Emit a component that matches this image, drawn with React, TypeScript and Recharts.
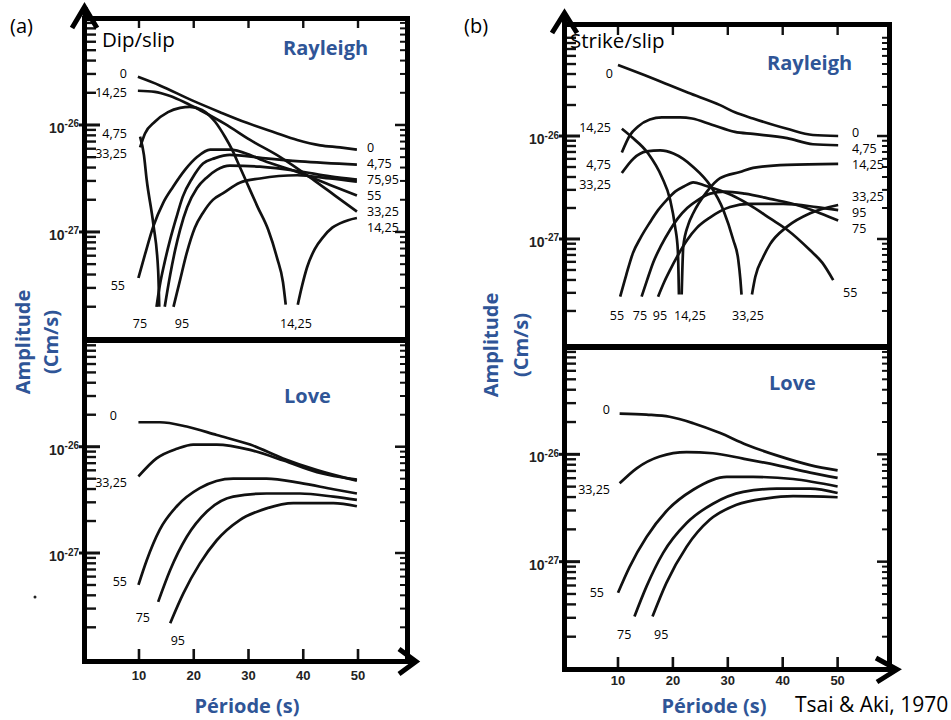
import React from "react"
import { LineChart, Line, XAxis, YAxis, ReferenceLine } from "recharts"

// amplitudes are stored as log10(cm/s), periods in s
type Pair = [number, number | null]

const PERIOD_TICKS = [10, 20, 30, 40, 50]
const DECADES = [-28, -27, -26]
const MINOR_OFFSETS = [0.301, 0.477, 0.602, 0.699, 0.778, 0.845, 0.903, 0.954]
const MAJOR_TICKS = [-27, -26]

// Dip/slip, Rayleigh
const dipR0: Pair[] = [[9.8, -25.55], [13.8, -25.63], [19.7, -25.77], [24.8, -25.88], [29.7, -25.98], [34.8, -26.07], [38.9, -26.14], [43.1, -26.19], [46.7, -26.21], [49.8, -26.23]]
const dipR1425: Pair[] = [[9.8, -25.68], [12.9, -25.69], [15.7, -25.73], [18.4, -25.79], [21.1, -25.86], [25.7, -25.99], [30.3, -26.14], [35.8, -26.3], [41.8, -26.51], [45.8, -26.66], [49.8, -26.81]]
const dipRArch: Pair[] = [[10.2, -26.21], [11.1, -26.08], [12.9, -25.97], [15.3, -25.88], [17.5, -25.84], [19.3, -25.83], [21.5, -25.86], [23.9, -25.97], [25.7, -26.11], [27.0, -26.23], [28.4, -26.39], [29.7, -26.54], [31.7, -26.77], [33.6, -26.98], [35.2, -27.24], [36.3, -27.47], [36.8, -27.68], [37.9, null], [39.0, -27.68], [39.8, -27.5], [40.7, -27.33], [42.1, -27.16], [43.6, -27.05], [45.3, -26.96], [46.7, -26.92], [48.2, -26.89], [49.8, -26.87]]
const dipR475: Pair[] = [[10.2, -26.11], [10.9, -26.28], [11.4, -26.51], [12.6, -26.92], [13.5, -27.36], [13.7, -27.7]]
const dipR55: Pair[] = [[9.9, -27.43], [11.1, -27.21], [12.6, -26.95], [14.4, -26.73], [16.2, -26.58], [18.4, -26.42], [20.6, -26.3], [23.0, -26.23], [26.6, -26.23], [30.3, -26.28], [32.6, -26.33], [38.9, -26.44], [44.9, -26.56], [49.8, -26.66]]
const dipR75: Pair[] = [[13.2, -27.7], [13.8, -27.5], [14.7, -27.28], [15.7, -27.07], [16.8, -26.87], [18.0, -26.67], [19.7, -26.5], [21.7, -26.36], [23.9, -26.31], [26.6, -26.28], [32.6, -26.31], [39.4, -26.34], [49.8, -26.37]]
const dipR95: Pair[] = [[14.7, -27.7], [15.7, -27.4], [16.6, -27.17], [17.5, -26.98], [18.8, -26.77], [20.6, -26.59], [22.4, -26.49], [24.2, -26.42], [26.6, -26.38], [32.1, -26.39], [38.9, -26.43], [44.9, -26.48], [49.8, -26.51]]
const dipR3325: Pair[] = [[16.3, -27.7], [17.5, -27.45], [18.7, -27.2], [20.2, -26.96], [21.7, -26.82], [23.5, -26.7], [25.3, -26.64], [28.4, -26.54], [32.1, -26.5], [38.9, -26.47], [44.9, -26.5], [49.8, -26.53]]

// Dip/slip, Love
const dipL0: Pair[] = [[9.9, -25.77], [13.8, -25.77], [18.7, -25.81], [24.2, -25.89], [30.3, -25.98], [36.3, -26.11], [42.5, -26.22], [49.8, -26.32]]
const dipL3325: Pair[] = [[9.9, -26.28], [13.2, -26.11], [16.9, -26.02], [19.9, -25.98], [24.2, -25.98], [30.3, -26.03], [36.4, -26.13], [42.5, -26.24], [49.8, -26.31]]
const dipL55: Pair[] = [[9.9, -27.3], [11.4, -27.07], [13.8, -26.78], [16.9, -26.56], [21.1, -26.39], [27.2, -26.3], [33.3, -26.3], [39.4, -26.34], [45.5, -26.4], [49.8, -26.44]]
const dipL75: Pair[] = [[13.5, -27.46], [15.7, -27.16], [18.7, -26.85], [22.4, -26.61], [27.2, -26.47], [33.3, -26.44], [39.4, -26.44], [45.5, -26.47], [49.8, -26.5]]
const dipL95: Pair[] = [[15.7, -27.66], [18.1, -27.38], [21.1, -27.1], [24.2, -26.88], [28.4, -26.69], [33.3, -26.58], [38.2, -26.53], [45.5, -26.53], [49.8, -26.56]]

// Strike/slip, Rayleigh
const strR0: Pair[] = [[10.0, -25.31], [14.9, -25.41], [18.6, -25.49], [22.8, -25.58], [28.6, -25.7], [31.3, -25.77], [34.6, -25.83], [40.8, -25.93], [45.5, -25.99], [50.1, -26.0]]
const strR475: Pair[] = [[10.7, -26.16], [12.2, -25.99], [13.6, -25.91], [15.8, -25.84], [18.0, -25.82], [21.3, -25.82], [23.5, -25.83], [27.1, -25.89], [31.3, -25.96], [34.6, -25.98], [40.8, -26.02], [45.5, -26.08], [50.1, -26.09]]
const strR1425: Pair[] = [[10.7, -25.93], [12.5, -26.01], [15.5, -26.17], [18.0, -26.4], [19.5, -26.62], [20.4, -26.88], [20.9, -27.11], [21.1, -27.54], [21.4, null], [21.6, -27.54], [21.9, -27.07], [22.8, -26.86], [23.7, -26.75], [26.2, -26.54], [28.6, -26.41], [32.2, -26.35], [34.6, -26.31], [40.8, -26.28], [50.1, -26.27]]
const strR3325: Pair[] = [[10.7, -26.36], [12.8, -26.22], [15.2, -26.15], [17.7, -26.14], [20.1, -26.17], [23.7, -26.3], [26.8, -26.48], [29.2, -26.72], [31.0, -27.01], [31.9, -27.2], [32.3, -27.4], [32.5, -27.54], [33.4, null], [34.4, -27.54], [35.0, -27.37], [36.4, -27.18], [37.7, -27.05], [40.8, -26.88], [45.0, -26.75], [50.1, -26.67]]
const strR55: Pair[] = [[10.4, -27.56], [11.5, -27.35], [12.7, -27.14], [14.2, -26.98], [15.8, -26.84], [17.3, -26.72], [18.9, -26.62], [20.4, -26.54], [22.0, -26.49], [23.7, -26.45], [25.8, -26.48], [28.6, -26.53], [31.3, -26.59], [34.6, -26.69], [37.7, -26.8], [40.8, -26.91], [45.0, -27.11], [47.2, -27.23], [49.2, -27.4]]
const strR75: Pair[] = [[14.3, -27.56], [15.3, -27.4], [16.4, -27.23], [17.8, -27.07], [19.5, -26.91], [20.9, -26.8], [22.6, -26.7], [24.6, -26.62], [26.8, -26.56], [29.5, -26.54], [33.1, -26.56], [37.7, -26.61], [43.2, -26.68], [46.8, -26.75], [50.1, -26.82]]
const strR95: Pair[] = [[17.3, -27.56], [18.4, -27.42], [19.5, -27.3], [20.9, -27.16], [22.6, -27.01], [24.4, -26.89], [26.8, -26.79], [30.4, -26.69], [34.0, -26.66], [40.1, -26.66], [46.1, -26.69], [50.1, -26.72]]

// Strike/slip, Love
const strL0: Pair[] = [[10.3, -25.62], [15.2, -25.63], [19.4, -25.65], [23.7, -25.71], [28.5, -25.8], [33.4, -25.91], [38.9, -26.01], [45.0, -26.1], [50.0, -26.15]]
const strL3325: Pair[] = [[10.3, -26.27], [13.4, -26.13], [17.6, -26.02], [22.5, -25.98], [27.3, -25.99], [32.8, -26.04], [38.9, -26.1], [45.0, -26.17], [50.0, -26.22]]
const strL55: Pair[] = [[10.0, -27.29], [12.1, -27.05], [15.2, -26.77], [18.8, -26.53], [23.7, -26.33], [29.8, -26.21], [34.6, -26.21], [41.9, -26.23], [50.0, -26.3]]
const strL75: Pair[] = [[13.0, -27.51], [15.2, -27.23], [18.2, -26.92], [22.5, -26.64], [27.3, -26.46], [32.8, -26.35], [38.9, -26.32], [45.0, -26.32], [50.0, -26.36]]
const strL95: Pair[] = [[16.3, -27.51], [18.8, -27.2], [22.5, -26.86], [26.7, -26.61], [31.6, -26.47], [37.1, -26.41], [41.9, -26.39], [50.0, -26.4]]

const BLUE = "#2f5597"
const INK = "#111"
const LABEL_FONT = "'Open Sans', sans-serif"
const TICK_FONT = "'Liberation Sans', Arial, sans-serif"

const minorTicks = DECADES.flatMap((d) => MINOR_OFFSETS.map((o) => d + o))

const toPts = (arr: Pair[]) => arr.map(([x, y]) => ({ x, y }))

function LeftLabel(props: any) {
  const { x, y, payload } = props
  return (
    <text x={x - 6} y={y} textAnchor="end" fontFamily={TICK_FONT} fontWeight="bold" fill="#222">
      <tspan dy={8} fontSize={14}>10</tspan>
      <tspan dy={-5.5} fontSize={10}>{String(payload.value)}</tspan>
    </text>
  )
}

function BottomLabel(props: any) {
  const { x, y, payload, labelDy } = props
  return (
    <text x={x} y={y + labelDy} textAnchor="middle" fontFamily={TICK_FONT} fontWeight="bold" fontSize={13} fill="#222">
      {payload.value}
    </text>
  )
}

interface PanelProps {
  left: number
  top: number
  w: number
  h: number
  xDomain: [number, number]
  yDomain: [number, number]
  series: Pair[][]
  bottomAxis?: boolean
  labelDy?: number
}

function Panel({ left, top, w, h, xDomain, yDomain, series, bottomAxis, labelDy = 18 }: PanelProps) {
  const AX = 60
  const RX = 12
  const TOP = 12
  const BOT = bottomAxis ? 30 : 0
  const [x0, x1] = xDomain
  const [y0, y1] = yDomain
  const ux = (x1 - x0) / w // data units per pixel
  const uy = (y1 - y0) / h
  const seg = (ax: number, ay: number, bx: number, by: number, key: string, sw = 2.4) => (
    <ReferenceLine
      key={key}
      xAxisId="b"
      yAxisId="l"
      segment={[{ x: ax, y: ay }, { x: bx, y: by }]}
      stroke={INK}
      strokeWidth={sw}
      ifOverflow="visible"
    />
  )
  return (
    <div style={{ position: "absolute", left: left - AX, top: top - TOP }}>
      <LineChart width={w + AX + RX} height={h + TOP + BOT} margin={{ top: TOP, right: RX, bottom: 0, left: 0 }}>
        <XAxis
          xAxisId="b"
          type="number"
          dataKey="x"
          domain={xDomain}
          allowDataOverflow
          hide={!bottomAxis}
          height={BOT}
          ticks={PERIOD_TICKS}
          interval={0}
          tickLine={false}
          axisLine={false}
          tickSize={0}
          tickMargin={0}
          tick={(p: any) => <BottomLabel {...p} labelDy={labelDy} />}
        />
        <YAxis
          yAxisId="l"
          type="number"
          domain={yDomain}
          allowDataOverflow
          width={AX}
          ticks={MAJOR_TICKS}
          interval={0}
          tickLine={false}
          axisLine={false}
          tickSize={0}
          tickMargin={0}
          tick={(p: any) => <LeftLabel {...p} />}
        />
        {/* log minor / major tick marks on left and right borders */}
        {minorTicks.map((v, i) => seg(x0, v, x0 + 11 * ux, v, "lm" + i))}
        {minorTicks.map((v, i) => seg(x1 - 8 * ux, v, x1, v, "rm" + i, 2))}
        {MAJOR_TICKS.map((v, i) => seg(x0 - 6 * ux, v, x0 + 15 * ux, v, "lM" + i, 3))}
        {MAJOR_TICKS.map((v, i) => seg(x1 - 13 * ux, v, x1, v, "rM" + i, 2.5))}
        {/* period tick marks */}
        {bottomAxis
          ? PERIOD_TICKS.map((p, i) => seg(p, y0, p, y0 + 12 * uy, "bt" + i, 2.6))
          : PERIOD_TICKS.map((p, i) => seg(p, y1, p, y1 - 10 * uy, "tt" + i))}
        {series.map((s, i) => (
          <Line
            key={i}
            xAxisId="b"
            yAxisId="l"
            data={toPts(s)}
            dataKey="y"
            type="monotoneX"
            stroke={INK}
            strokeWidth={2.7}
            dot={false}
            activeDot={false}
            connectNulls={false}
            isAnimationActive={false}
          />
        ))}
      </LineChart>
    </div>
  )
}

type Lbl = [string, number, number, "start" | "middle" | "end"]

const curveLabels: Lbl[] = [
  // dip/slip Rayleigh
  ["0", 127, 73, "end"], ["14,25", 127, 92, "end"], ["4,75", 127, 133, "end"], ["33,25", 127, 153, "end"], ["55", 125, 285, "end"],
  ["0", 367, 147, "start"], ["4,75", 367, 163, "start"], ["75,95", 367, 179, "start"], ["55", 367, 195, "start"], ["33,25", 367, 211, "start"], ["14,25", 367, 227, "start"],
  ["75", 140, 323, "middle"], ["95", 182, 323, "middle"], ["14,25", 296, 323, "middle"],
  // dip/slip Love
  ["0", 117, 415, "end"], ["33,25", 127, 482, "end"], ["55", 127, 581, "end"], ["75", 150, 617, "end"], ["95", 185, 640, "end"],
  // strike/slip Rayleigh
  ["0", 613, 73, "end"], ["14,25", 611, 127, "end"], ["4,75", 611, 164, "end"], ["33,25", 611, 184, "end"],
  ["0", 852, 132, "start"], ["4,75", 852, 148, "start"], ["14,25", 852, 164, "start"], ["33,25", 852, 196, "start"], ["95", 852, 212, "start"], ["75", 852, 228, "start"], ["55", 843, 292, "start"],
  ["55", 617, 315, "middle"], ["75", 640, 315, "middle"], ["95", 660, 315, "middle"], ["14,25", 690, 315, "middle"], ["33,25", 748, 315, "middle"],
  // strike/slip Love
  ["0", 610, 409, "end"], ["33,25", 610, 489, "end"], ["55", 604, 592, "end"], ["75", 617, 634, "start"], ["95", 654, 634, "start"],
]

export default function App() {
  return (
    <div style={{ position: "absolute", left: 0, top: 0, width: 951, height: 720, background: "#fff", overflow: "hidden" }}>
      <Panel left={85} top={18} w={323} h={322} xDomain={[0.14, 59.13]} yDomain={[-28.01, -25.0]}
        series={[dipR0, dipR1425, dipRArch, dipR475, dipR55, dipR75, dipR95, dipR3325]} />
      <Panel left={85} top={340} w={323} h={321} xDomain={[0.14, 59.13]} yDomain={[-28.016, -24.996]}
        series={[dipL0, dipL3325, dipL55, dipL75, dipL95]} bottomAxis labelDy={18.5} />
      <Panel left={565} top={25} w={325} h={322} xDomain={[0.35, 59.54]} yDomain={[-28.049, -24.922]}
        series={[strR0, strR475, strR1425, strR3325, strR55, strR75, strR95]} />
      <Panel left={565} top={347} w={325} h={322} xDomain={[0.35, 59.54]} yDomain={[-28.0, -25.0]}
        series={[strL0, strL3325, strL55, strL75, strL95]} bottomAxis labelDy={15.5} />

      {/* frames */}
      <div style={{ position: "absolute", left: 82, top: 16, width: 328, height: 648, border: "5px solid #000", boxSizing: "border-box" }} />
      <div style={{ position: "absolute", left: 82, top: 337, width: 328, height: 6, background: "#000" }} />
      <div style={{ position: "absolute", left: 562, top: 22, width: 330, height: 650, border: "5px solid #000", boxSizing: "border-box" }} />
      <div style={{ position: "absolute", left: 562, top: 344, width: 330, height: 6, background: "#000" }} />

      <svg width={951} height={720} style={{ position: "absolute", left: 0, top: 0, pointerEvents: "none" }}>
        {/* arrows */}
        <g stroke="#000" strokeWidth={5} fill="none">
          <line x1={85} y1={18} x2={85} y2={7} />
          <polyline points="72,28 84.5,7 97,28" />
          <line x1={407} y1={661.5} x2={415} y2={661.5} />
          <polyline points="399,649 416,661.5 399,674" />
          <line x1={564.5} y1={25} x2={564.5} y2={14} />
          <polyline points="552,33 564.5,13 577,33" />
          <line x1={889} y1={669.5} x2={896} y2={669.5} />
          <polyline points="876,658 897,669.5 877,682" />
        </g>
        <circle cx={35} cy={597} r={1.5} fill="#222" />

        <g fontFamily={LABEL_FONT} fill="#000">
          <text x={10} y={33} fontSize={20}>(a)</text>
          <text x={464} y={33} fontSize={20}>(b)</text>
          <text x={102} y={47} fontSize={20.5}>Dip/slip</text>
          <text x={570} y={48} fontSize={20.5}>Strike/slip</text>
          <text x={795} y={712} fontSize={21}>Tsai &amp; Aki, 1970</text>
        </g>

        <g fontFamily={LABEL_FONT} fontWeight="bold" fill={BLUE} fontSize={20}>
          <text x={283} y={55}>Rayleigh</text>
          <text x={767} y={70}>Rayleigh</text>
          <text x={284} y={403}>Love</text>
          <text x={769} y={390}>Love</text>
          <text x={247} y={713} textAnchor="middle">Période (s)</text>
          <text x={714} y={713} textAnchor="middle">Période (s)</text>
          <text transform="translate(22,342) rotate(-90)" textAnchor="middle" dominantBaseline="central">Amplitude</text>
          <text transform="translate(50,342) rotate(-90)" textAnchor="middle" dominantBaseline="central">(Cm/s)</text>
          <text transform="translate(490,345) rotate(-90)" textAnchor="middle" dominantBaseline="central">Amplitude</text>
          <text transform="translate(520,345) rotate(-90)" textAnchor="middle" dominantBaseline="central">(Cm/s)</text>
        </g>

        <g fontFamily={LABEL_FONT} fontSize={12.5} fill="#000">
          {curveLabels.map(([t, x, y, a], i) => (
            <text key={i} x={x} y={y} textAnchor={a} dominantBaseline="central">{t}</text>
          ))}
        </g>
      </svg>
    </div>
  )
}
